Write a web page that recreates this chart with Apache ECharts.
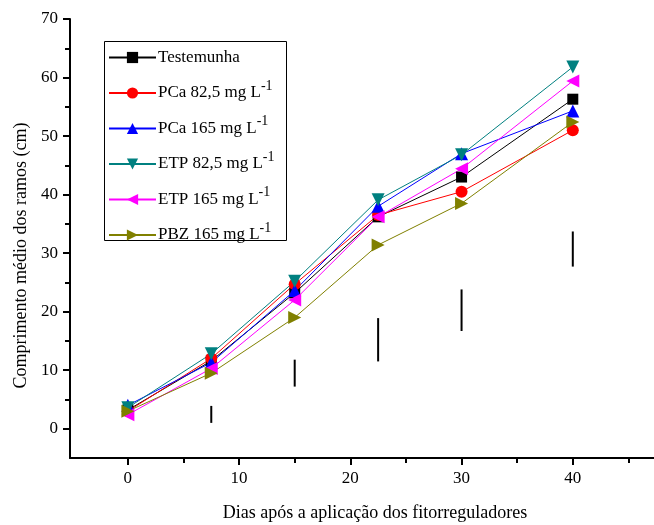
<!DOCTYPE html>
<html>
<head>
<meta charset="utf-8">
<script src="https://cdn.jsdelivr.net/npm/echarts@6/dist/echarts.min.js"></script>
<style>html,body{margin:0;padding:0;background:#fff}#c{width:654px;height:525px}</style>
</head>
<body>
<div id="c"></div>
<script>
var days = [0, 7.5, 15, 22.5, 30, 40];
var testemunha = [3.2, 11.6, 23.2, 36.2, 43.0, 56.3];
var pca825 = [3.0, 12.0, 24.7, 36.5, 40.5, 51.0];
var pca165 = [4.0, 11.3, 23.6, 38.0, 47.0, 54.3];
var etp825 = [3.6, 12.8, 25.2, 39.1, 46.8, 61.8];
var etp165 = [2.4, 10.3, 22.0, 36.2, 44.4, 59.4];
var pbz165 = [3.0, 9.5, 19.0, 31.4, 38.5, 52.4];
var lsdDays = [7.5, 15, 22.5, 30, 40];
var lsdLow = [1.0, 7.2, 11.5, 16.7, 27.7];
var lsdHigh = [3.9, 11.8, 18.9, 23.8, 33.7];
var xMajor = [0, 10, 20, 30, 40];
var xMinor = [5, 15, 25, 35, 45];
var yMajor = [0, 10, 20, 30, 40, 50, 60, 70];
var yMinor = [5, 15, 25, 35, 45, 55, 65];
var names = ['Testemunha', 'PCa 82,5 mg L-1', 'PCa 165 mg L-1', 'ETP 82,5 mg L-1', 'ETP 165 mg L-1', 'PBZ 165 mg L-1'];

var FONT = 'Liberation Serif';
var chart = echarts.init(document.getElementById('c'), null, {renderer: 'canvas'});
function pts(ys) { return days.map(function (d, i) { return [d, ys[i]]; }); }
var colors = ['#000000', '#ff0000', '#0000ff', '#008080', '#ff00ff', '#808000'];
var symbols = ['rect', 'circle', 'triangle',
  'path://M0,0 L10,0 L5,9 Z',
  'path://M9,0 L9,10 L0,5 Z',
  'path://M0,0 L0,10 L9,5 Z'];
var sizes = [11, 12, 13, 13, 13, 13];
var all = [testemunha, pca825, pca165, etp825, etp165, pbz165];
var series = all.map(function (ys, i) {
  return {
    name: names[i], type: 'line', data: pts(ys),
    symbol: symbols[i], symbolSize: sizes[i], showSymbol: true,
    lineStyle: {color: colors[i], width: 1},
    itemStyle: {color: colors[i]},
    animation: false, z: 3
  };
});
series.push({
  type: 'custom', name: 'lsd',
  data: lsdDays.map(function (d, i) { return [d, lsdLow[i], lsdHigh[i]]; }),
  renderItem: function (params, api) {
    var a = api.coord([api.value(0), api.value(1)]);
    var b = api.coord([api.value(0), api.value(2)]);
    return {type: 'line', shape: {x1: a[0], y1: a[1], x2: b[0], y2: b[1]},
      style: {stroke: '#000', lineWidth: 2}};
  },
  animation: false, z: 2
});

chart.setOption({
  backgroundColor: '#fff',
  animation: false,
  grid: {left: 70, right: 0, top: 19, bottom: 67, containLabel: false, outerBoundsMode: 'none'},
  graphic: [{
    type: 'rect', left: 104, top: 41, z: 1,
    shape: {width: 182, height: 199},
    style: {fill: '#fff', stroke: '#000', lineWidth: 1}
  }],
  legend: {
    data: names, orient: 'vertical', left: 104, top: 41, z: 5,
    borderWidth: 0,
    padding: [8, 10, 4, 4], itemGap: 13, itemWidth: 47, itemHeight: 14,
    formatter: function (n) { return n.replace('L-1', 'L{sup|-1}'); },
    textStyle: {fontFamily: FONT, fontSize: 17, color: '#000', padding: [0, 0, 0, -3],
      rich: {sup: {fontFamily: FONT, fontSize: 14, color: '#000', padding: [0, 0, 14, 0]}}}
  },
  xAxis: [{
    type: 'value', min: -5.2, max: 47.3,
    name: 'Dias após a aplicação dos fitorreguladores', nameLocation: 'middle', nameGap: 46,
    nameTextStyle: {fontFamily: FONT, fontSize: 18, color: '#000', padding: [0, 0, 0, 26]},
    axisLine: {show: true, onZero: false, lineStyle: {color: '#000', width: 2}},
    axisTick: {show: true, inside: false, length: 7, customValues: xMajor, lineStyle: {color: '#000', width: 2}},
    axisLabel: {customValues: xMajor, fontFamily: FONT, fontSize: 17, color: '#000', margin: 12},
    splitLine: {show: false}
  }, {
    type: 'value', min: -5.2, max: 47.3, position: 'bottom',
    axisLine: {show: false, onZero: false},
    axisTick: {show: true, length: 5, customValues: xMinor, lineStyle: {color: '#000', width: 2}},
    axisLabel: {show: false}, splitLine: {show: false}
  }],
  yAxis: [{
    type: 'value', min: -5, max: 70,
    name: 'Comprimento médio dos ramos (cm)', nameLocation: 'middle', nameGap: 37,
    nameTextStyle: {fontFamily: FONT, fontSize: 18, color: '#000', padding: [0, 34, 0, 0]},
    axisLine: {show: true, onZero: false, lineStyle: {color: '#000', width: 2}},
    axisTick: {show: true, length: 7, customValues: yMajor, lineStyle: {color: '#000', width: 2}},
    axisLabel: {customValues: yMajor, fontFamily: FONT, fontSize: 17, color: '#000', margin: 12},
    splitLine: {show: false}
  }, {
    type: 'value', min: -5, max: 70, position: 'left',
    axisLine: {show: false, onZero: false},
    axisTick: {show: true, length: 5, customValues: yMinor, lineStyle: {color: '#000', width: 2}},
    axisLabel: {show: false}, splitLine: {show: false}
  }],
  series: series
});
</script>
</body>
</html>
